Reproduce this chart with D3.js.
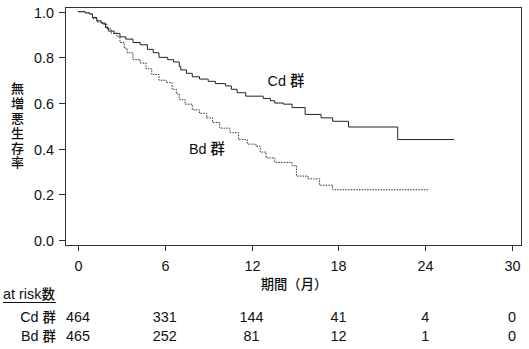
<!DOCTYPE html>
<html><head><meta charset="utf-8">
<script src="https://cdn.jsdelivr.net/npm/d3@7"></script>
<style>
body{margin:0;background:#fff;}
text{font-family:"Liberation Sans",Arial,"Noto Sans CJK JP",sans-serif;fill:#111;}
tspan.cjk, text.cjk{font-family:"Noto Sans CJK JP",sans-serif;font-weight:500;}
</style></head>
<body>
<svg id="c" width="529" height="349"></svg>
<script>
// ---- data ----
const cdTimes = [0,0.5,0.8,1.0,1.3,1.6,1.9,2.1,2.5,2.9,3.3,3.8,4.3,4.8,5.2,5.6,6.2,6.6,7.0,7.1,7.5,7.9,8.4,9.0,9.5,10.2,10.6,11.0,11.6,12.8,13.3,13.6,14.2,14.8,15.7,16.8,17.6,18.7,22.1,26.0];
const cdSurv  = [1.0,0.995,0.99,0.975,0.96,0.95,0.93,0.915,0.905,0.89,0.88,0.865,0.855,0.835,0.82,0.80,0.79,0.78,0.76,0.745,0.73,0.715,0.705,0.695,0.685,0.675,0.66,0.645,0.63,0.62,0.61,0.60,0.595,0.58,0.55,0.535,0.52,0.495,0.44,0.44];
const bdTimes = [0,0.5,0.8,1.0,1.3,1.7,2.0,2.3,2.7,2.9,3.2,3.4,3.8,4.3,4.7,5.1,5.6,6.1,6.5,6.8,7.0,7.4,7.9,8.4,8.9,9.3,9.8,10.5,11.1,11.7,12.3,12.6,13.0,13.6,14.8,15.1,15.9,16.7,17.6,24.2];
const bdSurv  = [1.0,0.995,0.99,0.97,0.955,0.945,0.925,0.905,0.89,0.865,0.84,0.82,0.79,0.775,0.75,0.725,0.70,0.69,0.66,0.64,0.615,0.595,0.57,0.555,0.535,0.515,0.49,0.47,0.44,0.42,0.41,0.385,0.36,0.34,0.325,0.28,0.268,0.24,0.22,0.22];
const xTicks = [0,6,12,18,24,30];
const yTicks = [0,0.2,0.4,0.6,0.8,1.0];
const groups = ["Cd 群","Bd 群"];
const riskCd = [464,331,144,41,4,0];
const riskBd = [465,252,81,12,1,0];
const yTitle = "無増悪生存率";
const xTitle = "期間（月）";
const riskTitle = "at risk数";

// ---- drawing ----
const FS = 14.4;
const svg = d3.select("#c");
const x = d3.scaleLinear().domain([0,30]).range([78,512]);
const y = d3.scaleLinear().domain([0,1]).range([240,11.7]);
const frame = {l:65.5, r:521.5, t:7.5, b:245.5};

function richText(sel, str, cjkSize){
  const re = /[\u3000-\u9fff\uff00-\uffef]+|[^\u3000-\u9fff\uff00-\uffef]+/g;
  (str.match(re) || []).forEach(r=>{
    const t = sel.append("tspan").text(r);
    if (/[\u3000-\u9fff\uff00-\uffef]/.test(r)) {
      t.attr("class","cjk");
      if (cjkSize) t.attr("font-size", cjkSize);
    }
  });
  return sel;
}

svg.append("rect").attr("x",frame.l).attr("y",frame.t)
  .attr("width",frame.r-frame.l).attr("height",frame.b-frame.t)
  .attr("fill","none").attr("stroke","#333").attr("stroke-width",1);

// y axis
const ya = svg.append("g");
yTicks.forEach(v=>{
  const yy = Math.round(y(v))+0.5;
  ya.append("line").attr("x1",59).attr("x2",frame.l).attr("y1",yy).attr("y2",yy).attr("stroke","#333");
  ya.append("text").attr("x",54).attr("y",yy+5).attr("text-anchor","end")
    .attr("font-size",FS).text(d3.format(".1f")(v));
});
// x axis
const xa = svg.append("g");
xTicks.forEach(v=>{
  const xx = Math.round(x(v))+0.5;
  xa.append("line").attr("x1",xx).attr("x2",xx).attr("y1",frame.b).attr("y2",251).attr("stroke","#333");
  xa.append("text").attr("x",xx).attr("y",270.5).attr("text-anchor","middle")
    .attr("font-size",FS).text(v);
});

// titles
svg.append("text").attr("class","cjk").attr("x",294).attr("y",288.5).attr("text-anchor","middle")
  .attr("font-size",13.3).text(xTitle);
svg.append("text").attr("class","cjk")
  .attr("x",17.5).attr("y",82)
  .attr("font-size",13)
  .style("writing-mode","vertical-rl")
  .style("letter-spacing","1.8px")
  .text(yTitle);

// curves
const line = d3.line().x(d=>x(d[0])).y(d=>y(d[1])).curve(d3.curveStepAfter);
svg.append("path").datum(d3.zip(cdTimes,cdSurv)).attr("d",line)
  .attr("fill","none").attr("stroke","#222").attr("stroke-width",1);
svg.append("path").datum(d3.zip(bdTimes,bdSurv)).attr("d",line)
  .attr("fill","none").attr("stroke","#333").attr("stroke-width",1)
  .attr("stroke-dasharray","1.5,1.2");

// curve labels
richText(svg.append("text").attr("x",267.5).attr("y",86).attr("font-size",FS), groups[0]);
richText(svg.append("text").attr("x",189).attr("y",154).attr("font-size",FS), groups[1]);

// at risk table
richText(svg.append("text").attr("x",3).attr("y",298.5).attr("font-size",FS), riskTitle, 13.4);
svg.append("line").attr("x1",3).attr("x2",56).attr("y1",302.5).attr("y2",302.5).attr("stroke","#111");
const rows = [riskCd, riskBd];
const rowY = [321.5, 341];
rows.forEach((vals,ri)=>{
  richText(svg.append("text").attr("x",56).attr("y",rowY[ri]).attr("text-anchor","end")
    .attr("font-size",FS), groups[ri], 13.4);
  vals.forEach((v,i)=>{
    svg.append("text")
      .attr("x", x(xTicks[i]))
      .attr("y",rowY[ri])
      .attr("text-anchor","middle")
      .attr("font-size",FS).text(v);
  });
});
</script>
</body></html>
